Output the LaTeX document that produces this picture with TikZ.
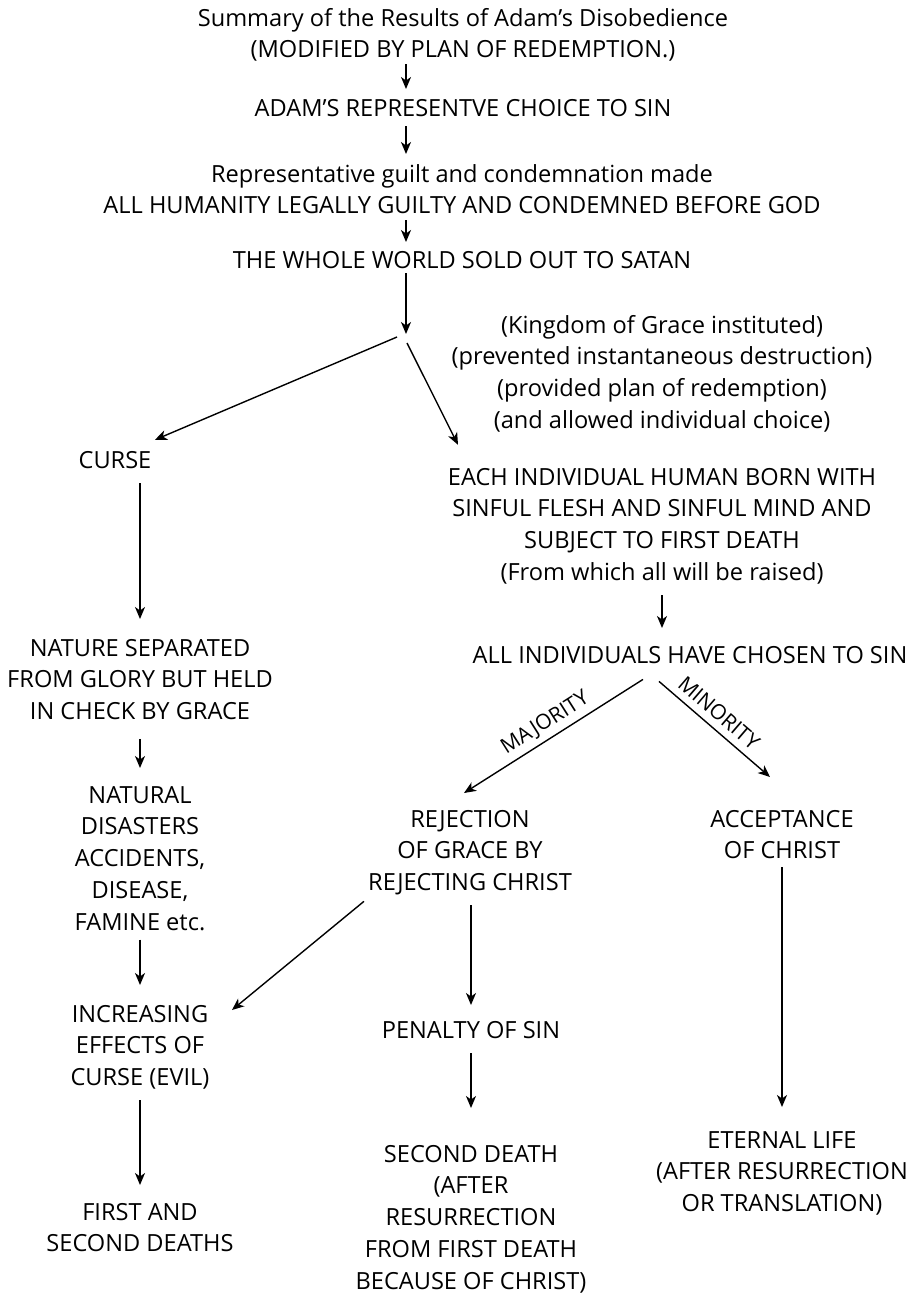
\documentclass[tikz,border=0pt]{standalone}
\usepackage{fontspec}
\setmainfont{Open Sans}
\usetikzlibrary{arrows.meta,calc}
\begin{document}
\begin{tikzpicture}[x=1pt,y=-1pt,
  txt/.style={inner sep=0pt, anchor=north, align=center, font=\fontsize{23.6}{31.7}\selectfont},
  lbl/.style={inner sep=0pt, font=\fontsize{21}{24}\selectfont},
  arr/.style={-{Stealth[length=12pt,width=10pt,inset=3.5pt]}, line width=1.4pt}]
\useasboundingbox (0,0) rectangle (919,1294);
% top spine
\node[txt] (title) at (463,3.8) {\strut Summary of the Results of Adam’s Disobedience\\\strut (MODIFIED BY PLAN OF REDEMPTION.)};
\node[txt] (adam) at (463,93.8) {\strut ADAM’S REPRESENTVE CHOICE TO SIN};
\node[txt] (rep) at (462,159.8) {\strut Representative guilt and condemnation made\\\strut ALL HUMANITY LEGALLY GUILTY AND CONDEMNED BEFORE GOD};
\node[txt] (world) at (462,245.8) {\strut THE WHOLE WORLD SOLD OUT TO SATAN};
\node[txt] (kingdom) at (662,310.8) {\strut (Kingdom of Grace instituted)\\\strut (prevented instantaneous destruction)\\\strut (provided plan of redemption)\\\strut (and allowed individual choice)};
\coordinate (spine) at (406,300);
\coordinate (fork) at (406,334);
\coordinate (forkL) at (397,337);
\coordinate (forkR) at (407,343);
% left column
\node[txt] (curse) at (115,445.8) {\strut CURSE};
\node[txt] (nature) at (140,633.8) {\strut NATURE SEPARATED\\\strut FROM GLORY BUT HELD\\\strut IN CHECK BY GRACE};
\node[txt] (natural) at (140,780.8) {\strut NATURAL\\\strut DISASTERS\\\strut ACCIDENTS,\\\strut DISEASE,\\\strut FAMINE etc.};
\node[txt] (increasing) at (140,999.8) {\strut INCREASING\\\strut EFFECTS OF\\\strut CURSE (EVIL)};
\node[txt] (first) at (140,1197.8) {\strut FIRST AND\\\strut SECOND DEATHS};
% right part
\node[txt] (each) at (662,462.8) {\strut EACH INDIVIDUAL HUMAN BORN WITH\\\strut SINFUL FLESH AND SINFUL MIND AND\\\strut SUBJECT TO FIRST DEATH\\\strut (From which all will be raised)};
\node[txt] (allind) at (690,640.8) {\strut ALL INDIVIDUALS HAVE CHOSEN TO SIN};
\node[txt] (rejection) at (470,804.8) {\strut REJECTION\\\strut OF GRACE BY\\\strut REJECTING CHRIST};
\node[txt] (accept) at (782,804.8) {\strut ACCEPTANCE\\\strut OF CHRIST};
\node[txt] (penalty) at (471,1015.8) {\strut PENALTY OF SIN};
\node[txt] (second) at (471,1139.8) {\strut SECOND DEATH\\\strut (AFTER\\\strut RESURRECTION\\\strut FROM FIRST DEATH\\\strut BECAUSE OF CHRIST)};
\node[txt] (eternal) at (782,1125.8) {\strut ETERNAL LIFE\\\strut (AFTER RESURRECTION\\\strut OR TRANSLATION)};
% connectors
\draw[arr, shorten <=-3.5pt, shorten >=4.8pt] (title.south -| spine) -- (adam.north -| spine);
\draw[arr, shorten <=0.5pt, shorten >=5.8pt] (adam.south -| spine) -- (rep.north -| spine);
\draw[arr, shorten <=-3.5pt, shorten >=3.8pt] (rep.south -| spine) -- (world.north -| spine);
\draw[arr, shorten <=-4.5pt] (world.south -| spine) -- (fork);
\draw[arr] (forkL) -- ($(curse.north)+(40,-6)$);
\draw[arr] (forkR) -- ($(each.north)+(-204,-18)$);
\draw[arr, shorten <=5.5pt, shorten >=14.8pt] (curse.south -| nature.north) -- (nature.north);
\draw[arr, shorten <=9.5pt, shorten >=12.8pt] (nature.south) -- (natural.north);
\draw[arr, shorten >=14.8pt] (natural.south) -- (increasing.north);
\draw[arr, shorten <=5pt, shorten >=12.8pt] (increasing.south) -- (first.north);
\draw[arr, shorten <=5.4pt, shorten >=12.8pt] (each.south) -- (allind.north -| each.south);
\draw[arr] ($(allind.south)+(-47,6.5)$) -- node[lbl, sloped, above=5pt] {MAJORITY} ($(rejection.north)+(-6,-11.8)$);
\draw[arr] ($(allind.south)+(-31,8.5)$) -- node[lbl, sloped, above=7pt, pos=0.45] {MINORITY} ($(accept.north)+(-12,-27.8)$);
\draw[arr] ($(rejection.south)+(-106,1)$) -- ($(increasing.north)+(92,10.2)$);
\draw[arr, shorten <=5pt, shorten >=10.8pt] (rejection.south -| penalty.north) -- (penalty.north);
\draw[arr, shorten <=5.5pt, shorten >=31.8pt] (penalty.south) -- (second.north);
\draw[arr, shorten <=-1.2pt, shorten >=18.8pt] (accept.south) -- (eternal.north);
\end{tikzpicture}
\end{document}
